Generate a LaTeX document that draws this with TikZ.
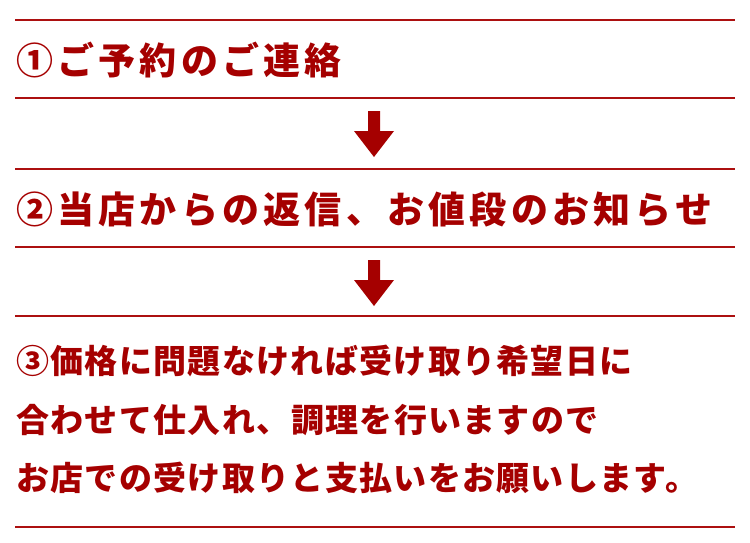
\documentclass[tikz,border=0pt]{standalone}
\usepackage{fontspec}
\newfontfamily\jpfont{Noto Sans CJK JP}
\definecolor{dred}{RGB}{165,0,0}
\definecolor{lred}{RGB}{172,16,16}
\begin{document}
\begin{tikzpicture}[x=1pt,y=-1pt,
  rule/.style={draw=lred,line width=2pt},
  headtext/.style={anchor=base west,inner sep=0pt,text=dred,font=\jpfont\bfseries\fontsize{37}{40}\selectfont\addfontfeature{LetterSpace=11.5}},
  bodytext/.style={anchor=base west,inner sep=0pt,text=dred,font=\jpfont\bfseries\fontsize{33}{36}\selectfont\addfontfeature{LetterSpace=4}},
  downarrow/.style={fill=dred,draw=none}]
\useasboundingbox (0,0) rectangle (750,542);
\coordinate (l1a) at (15,20);  \coordinate (l1b) at (735,20);
\coordinate (l2a) at (15,97.5);  \coordinate (l2b) at (735,97.5);
\coordinate (l3a) at (15,169);  \coordinate (l3b) at (735,169);
\coordinate (l4a) at (15,246.5);  \coordinate (l4b) at (735,246.5);
\coordinate (l5a) at (15,315.5);  \coordinate (l5b) at (735,315.5);
\coordinate (l6a) at (15,526.5);  \coordinate (l6b) at (735,526.5);
\foreach \i in {1,...,6} {\draw[rule] (l\i a) -- (l\i b);}
\node[headtext] (t1) at (16,74) {①ご予約のご連絡};
\node[headtext] (t2) at (16,223.5) {②当店からの返信、お値段のお知らせ};
\node[bodytext] (t3) at (16,373.5) {③価格に問題なければ受け取り希望日に};
\node[bodytext] (t4) at (16,432.5) {合わせて仕入れ、調理を行いますので};
\node[bodytext] (t5) at (16,490.5) {お店での受け取りと支払いをお願いします。};
\fill[downarrow] (368,111) -- (380,111) -- (380,131) -- (394,131) -- (374,157) -- (354,131) -- (368,131) -- cycle;
\fill[downarrow] (368,260) -- (380,260) -- (380,280) -- (394,280) -- (374,306) -- (354,280) -- (368,280) -- cycle;
\end{tikzpicture}
\end{document}
